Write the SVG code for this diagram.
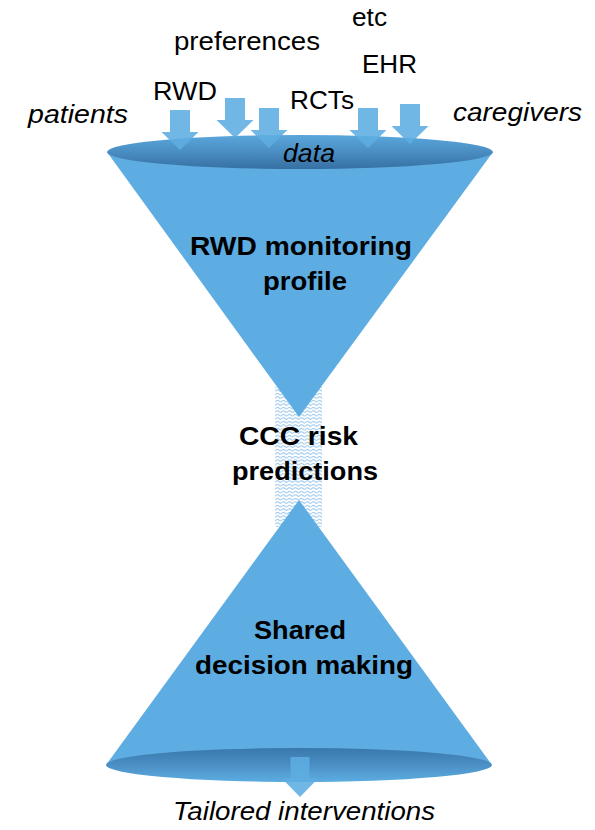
<svg xmlns="http://www.w3.org/2000/svg" width="595" height="830" viewBox="0 0 595 830">
<style>
.lbl{font-family:"Liberation Sans",Arial,sans-serif;font-size:26px;fill:#000}
.it{font-style:italic}
.bd{font-weight:bold}
.cone{fill:#5DADE2}
.arrow{fill:#5DADE2;opacity:0.88}
</style>
<defs>
<linearGradient id="gTop" x1="0" y1="0" x2="0" y2="1">
<stop offset="0" stop-color="#5AA7DC"/>
<stop offset="0.5" stop-color="#4A8DC2"/>
<stop offset="1" stop-color="#3670A3"/>
</linearGradient>
<linearGradient id="gBot" x1="0" y1="0" x2="0" y2="1">
<stop offset="0" stop-color="#3A78AC"/>
<stop offset="0.55" stop-color="#4C92C8"/>
<stop offset="1" stop-color="#5DADE2"/>
</linearGradient>
<pattern id="wave" width="6" height="3.5" patternUnits="userSpaceOnUse">
<path d="M0 2 Q1.5 0.5 3 2 T6 2" fill="none" stroke="#86BCE8" stroke-width="0.9"/>
</pattern>
<path id="arr" d="M-10 0 H10 V22 H18.5 L0 40 L-18.5 22 H-10 Z"/>
</defs>

<g id="neck">
<rect x="275" y="387" width="47" height="140" fill="url(#wave)"/>
</g>

<g id="top-funnel">
<polygon class="cone" points="107,152 493,152 299,417"/>
<ellipse cx="300" cy="152" rx="193" ry="17" fill="url(#gTop)"/>
<text class="lbl it" x="283" y="162" textLength="52" lengthAdjust="spacingAndGlyphs">data</text>
<text class="lbl bd" x="190" y="255" textLength="222" lengthAdjust="spacingAndGlyphs">RWD monitoring</text>
<text class="lbl bd" x="263" y="290" textLength="84" lengthAdjust="spacingAndGlyphs">profile</text>
</g>

<g id="inputs">
<text class="lbl" x="352" y="26" textLength="35" lengthAdjust="spacingAndGlyphs">etc</text>
<text class="lbl" x="174" y="50" textLength="146" lengthAdjust="spacingAndGlyphs">preferences</text>
<text class="lbl" x="362" y="73" textLength="55" lengthAdjust="spacingAndGlyphs">EHR</text>
<text class="lbl" x="153" y="100" textLength="64" lengthAdjust="spacingAndGlyphs">RWD</text>
<text class="lbl" x="290" y="109" textLength="64" lengthAdjust="spacingAndGlyphs">RCTs</text>
<text class="lbl it" x="28" y="123" textLength="100" lengthAdjust="spacingAndGlyphs">patients</text>
<text class="lbl it" x="453" y="121" textLength="129" lengthAdjust="spacingAndGlyphs">caregivers</text>
</g>

<g id="connectors">
<use href="#arr" class="arrow" x="180" y="110"/>
<use href="#arr" class="arrow" x="235" y="98"/>
<use href="#arr" class="arrow" x="269" y="108"/>
<use href="#arr" class="arrow" x="368" y="108"/>
<use href="#arr" class="arrow" x="410" y="104"/>
</g>

<g id="middle">
<text class="lbl bd" x="239" y="445" textLength="119" lengthAdjust="spacingAndGlyphs">CCC risk</text>
<text class="lbl bd" x="232" y="480" textLength="146" lengthAdjust="spacingAndGlyphs">predictions</text>
</g>

<g id="bottom-funnel">
<polygon class="cone" points="299,500 106,765 492,765"/>
<ellipse cx="299" cy="765" rx="193" ry="17" fill="url(#gBot)"/>
<text class="lbl bd" x="254" y="639" textLength="92" lengthAdjust="spacingAndGlyphs">Shared</text>
<text class="lbl bd" x="195" y="674" textLength="218" lengthAdjust="spacingAndGlyphs">decision making</text>
</g>

<g id="output">
<use href="#arr" class="arrow" x="300" y="757" transform="translate(300 757) scale(0.95 1) translate(-300 -757)"/>
<text class="lbl it" x="173" y="820" textLength="262" lengthAdjust="spacingAndGlyphs">Tailored interventions</text>
</g>
</svg>
